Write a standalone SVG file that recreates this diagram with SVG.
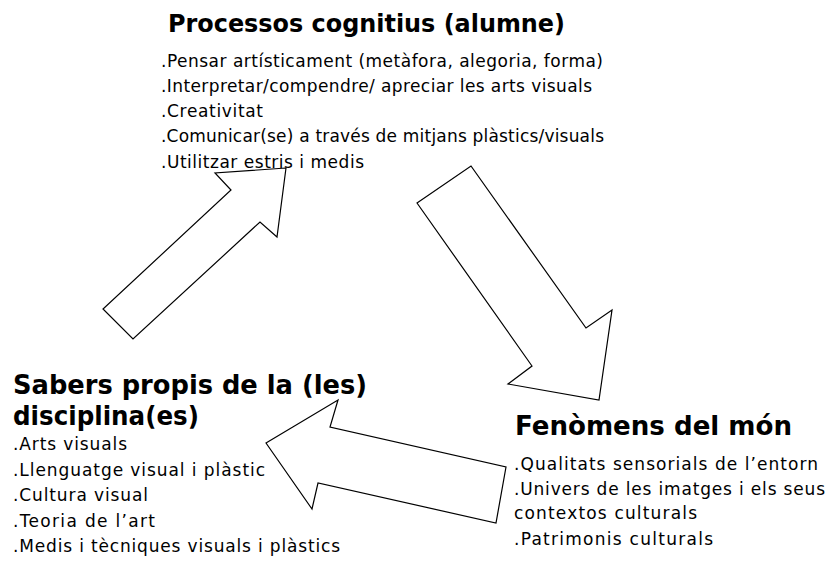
<svg xmlns="http://www.w3.org/2000/svg" width="830" height="561" viewBox="0 0 830 561">
<style>
.bg{fill:#ffffff}
.arrow{fill:#ffffff;stroke:#000000;stroke-width:1.2;stroke-linejoin:miter}
.title{font-family:"DejaVu Sans","Verdana",sans-serif;font-weight:bold;fill:#000000}
.item{font-family:"DejaVu Sans","Verdana",sans-serif;font-size:17px;fill:#000000}
</style>
<rect class="bg" x="0" y="0" width="830" height="561"/>
<g id="connectors">
<polygon class="arrow" points="286,168 215,173 231,190 103,309 133,339 260,222 277,237"/>
<polygon class="arrow" points="417,203 471,166 586,328 612,310 599,400 508,384 532,366"/>
<polygon class="arrow" points="266,443 338,400 330,427 506,467 496,523 318,483 312,509"/>
</g>
<g id="node-processos">
<text class="title" x="168" y="32" font-size="25" textLength="397" lengthAdjust="spacingAndGlyphs">Processos cognitius (alumne)</text>
<text class="item" x="161" y="67" textLength="442">.Pensar artísticament (metàfora, alegoria, forma)</text>
<text class="item" x="161" y="92" textLength="431">.Interpretar/compendre/ apreciar les arts visuals</text>
<text class="item" x="161" y="117" textLength="102">.Creativitat</text>
<text class="item" x="161" y="142" textLength="443">.Comunicar(se) a través de mitjans plàstics/visuals</text>
<text class="item" x="161" y="168" textLength="203">.Utilitzar estris i medis</text>
</g>
<g id="node-sabers">
<text class="title" x="13" y="394" font-size="26" textLength="354" lengthAdjust="spacingAndGlyphs">Sabers propis de la (les)</text>
<text class="title" x="13" y="425" font-size="26" textLength="186" lengthAdjust="spacingAndGlyphs">disciplina(es)</text>
<text class="item" x="13" y="450" textLength="114">.Arts visuals</text>
<text class="item" x="13" y="476" textLength="252">.Llenguatge visual i plàstic</text>
<text class="item" x="13" y="501" textLength="135">.Cultura visual</text>
<text class="item" x="13" y="527" textLength="142">.Teoria de l’art</text>
<text class="item" x="13" y="552" textLength="327">.Medis i tècniques visuals i plàstics</text>
</g>
<g id="node-fenomens">
<text class="title" x="515" y="435" font-size="26" textLength="277" lengthAdjust="spacingAndGlyphs">Fenòmens del món</text>
<text class="item" x="514" y="470" textLength="304">.Qualitats sensorials de l’entorn</text>
<text class="item" x="514" y="495" textLength="311">.Univers de les imatges i els seus</text>
<text class="item" x="514" y="519" textLength="183">contextos culturals</text>
<text class="item" x="514" y="545" textLength="199">.Patrimonis culturals</text>
</g>
</svg>
